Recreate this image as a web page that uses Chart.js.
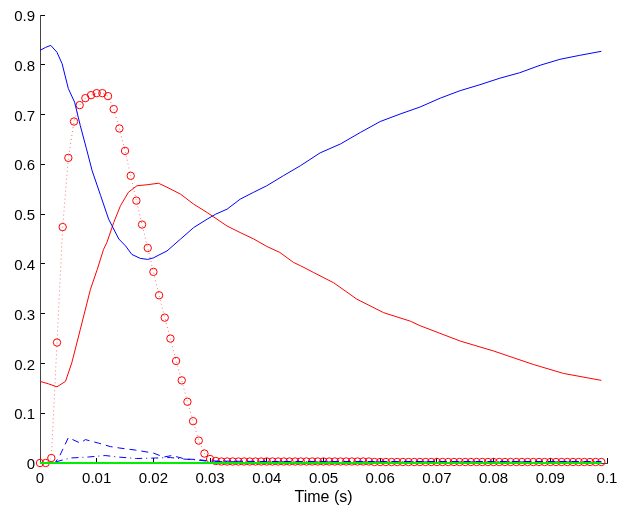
<!DOCTYPE html>
<html>
<head>
<meta charset="utf-8">
<script src="https://cdn.jsdelivr.net/npm/chart.js@4"></script>
<style>
  body { margin: 0; background: #fff; }
  #wrap { width: 622px; height: 514px; }
</style>
</head>
<body>
<div id="wrap"><canvas id="plot" width="622" height="514"></canvas></div>
<script>
// times are in ms, converted to seconds when the datasets are built
let circleTimes = [0,1,2,3,4,5,6,7,8,9,10,11,12,13,14,15,16,17,18,19,
    20,21,22,23,24,25,26,27,28,29,30,31,32,33,34,35,36,37,38,39,
    40,41,42,43,44,45,46,47,48,49,50,51,52,53,54,55,56,57,58,59,
    60,61,62,63,64,65,66,67,68,69,70,71,72,73,74,75,76,77,78,79,
    80,81,82,83,84,85,86,87,88,89,90,91,92,93,94,95,96,97,98,99];
let circleValues = [0,0,0.010,0.242,0.474,0.613,0.686,0.719,0.733,0.739,
    0.743,0.743,0.737,0.711,0.672,0.627,0.577,0.527,0.479,0.432,
    0.384,0.337,0.292,0.250,0.205,0.166,0.123,0.084,0.045,0.019,
    0.008,0.004,0.003,0.003,0.003,0.003,0.003,0.003,0.003,0.003,
    0.003,0.003,0.003,0.003,0.003,0.003,0.003,0.003,0.003,0.003,
    0.003,0.003,0.003,0.003,0.003,0.003,0.003,0.003,0.003,0.002,
    0.002,0.002,0.002,0.002,0.002,0.002,0.002,0.002,0.002,0.002,
    0.002,0.002,0.002,0.002,0.002,0.002,0.002,0.002,0.002,0.002,
    0.002,0.002,0.002,0.002,0.002,0.002,0.002,0.002,0.002,0.002,
    0.002,0.002,0.002,0.002,0.002,0.002,0.002,0.002,0.002,0.002];

let blueTimes = [0,1,1.9,3,3.9,5,6.1,7.1,8.2,9.2,10.7,12.1,13.9,15.1,16.2,17.7,19,20,21,22.4,
    24.8,27.1,29.5,31,33,35.3,37.7,40,42.9,45.9,49.4,53,56.5,60,63.5,67,70.6,74.1,77.6,81.1,
    84.6,88.2,91.7,95.2,99];
let blueValues = [0.829,0.835,0.839,0.825,0.802,0.752,0.725,0.678,0.631,0.587,0.537,0.490,0.450,0.436,0.419,0.411,0.409,0.412,0.418,0.426,
    0.450,0.473,0.490,0.500,0.510,0.530,0.544,0.557,0.577,0.597,0.623,0.641,0.664,0.686,0.701,0.715,0.733,0.748,0.760,0.773,
    0.784,0.799,0.811,0.819,0.827];

let redTimes = [0,1.5,3,4.5,5.6,7.1,8.9,10.1,11.2,11.8,13,14.2,15.6,17.1,18.9,20.9,22.4,24.8,27.1,29.5,
    33,35.3,37.7,40,42.3,44.7,46,48.2,51.8,55.9,60.6,65.3,67,74.1,80,87,92.3,99];
let redValues = [0.164,0.159,0.153,0.164,0.201,0.268,0.349,0.389,0.429,0.443,0.483,0.517,0.544,0.557,0.559,0.562,0.554,0.540,0.520,0.503,
    0.476,0.463,0.450,0.435,0.423,0.403,0.396,0.383,0.362,0.329,0.302,0.285,0.276,0.245,0.225,0.198,0.180,0.166];

let dashTimes = [0,2.7,3.5,5,7.1,8,10.3,12.4,14.1,16.8,20,21.8,23.3,25.6,27.7,30,40,50,60,70,80,90,99];
let dashValues = [0,0.001,0.015,0.051,0.040,0.047,0.040,0.033,0.030,0.026,0.020,0.012,0.015,0.008,0.007,0.004,0.003,0.003,0.003,0.003,0.003,0.003,0.003];

let dashDotTimes = [0,2.7,5.3,8.5,11.5,13.8,17,20.4,23,25.3,27.7,30,40,50,60,70,80,90,99];
let dashDotValues = [0,0.002,0.010,0.012,0.015,0.012,0.009,0.010,0.011,0.008,0.006,0.003,0.002,0.002,0.002,0.002,0.002,0.002,0.002];

let greenTimes = [0,99];
let greenValues = [0,0];

let xTicks = [0,0.01,0.02,0.03,0.04,0.05,0.06,0.07,0.08,0.09,0.1];
let yTicks = [0,0.1,0.2,0.3,0.4,0.5,0.6,0.7,0.8,0.9];

function pts(times, values) {
    return times.map((t, i) => ({ x: t / 1000, y: values[i] }));
}

let fontFamily = '"Liberation Sans", Arial, Helvetica, sans-serif';

let plotEl = document.getElementById("plot").getContext('2d');

let plot = new Chart(plotEl, {
    type: 'line',
    data: {
        datasets: [
            {
                label: 'green',
                data: pts(greenTimes, greenValues),
                borderColor: '#00ee00',
                borderWidth: 2,
                pointRadius: 0,
            },
            {
                label: 'dash-dot',
                data: pts(dashDotTimes, dashDotValues),
                borderColor: '#0000ff',
                borderWidth: 1,
                borderDash: [7, 4, 1, 4],
                pointRadius: 0,
            },
            {
                label: 'dashed',
                data: pts(dashTimes, dashValues),
                borderColor: '#0000ff',
                borderWidth: 1,
                borderDash: [7, 5],
                pointRadius: 0,
            },
            {
                label: 'blue',
                data: pts(blueTimes, blueValues),
                borderColor: '#0000ff',
                borderWidth: 1,
                pointRadius: 0,
            },
            {
                label: 'red',
                data: pts(redTimes, redValues),
                borderColor: '#ff0000',
                borderWidth: 1,
                pointRadius: 0,
            },
            {
                label: 'circles',
                data: pts(circleTimes, circleValues),
                borderColor: 'rgba(255,0,0,0.55)',
                borderWidth: 1,
                borderDash: [1, 3],
                pointRadius: 3.7,
                pointBorderWidth: 1,
                pointBorderColor: '#ff0000',
                pointBackgroundColor: 'rgba(0,0,0,0)',
            },
        ]
    },
    options: {
        responsive: false,
        animation: false,
        devicePixelRatio: 1,
        layout: { padding: { left: 0, right: 15, top: 15, bottom: 0 } },
        datasets: { line: { clip: false, tension: 0 } },
        scales: {
            x: {
                type: 'linear',
                min: 0,
                max: 0.1,
                afterFit: s => { s.height = 51; s.paddingLeft = 0; s.paddingRight = 0; },
                afterBuildTicks: s => { s.ticks = xTicks.map(v => ({ value: v })); },
                grid: { drawOnChartArea: false, tickLength: -5, color: '#000' },
                border: { color: '#444', width: 1 },
                ticks: {
                    color: '#000',
                    font: { family: fontFamily, size: 15 },
                    padding: 12,
                    maxRotation: 0,
                    autoSkip: false,
                    callback: v => String(Number(v.toFixed(2))),
                },
                title: {
                    display: true,
                    text: 'Time (s)',
                    color: '#000',
                    font: { family: fontFamily, size: 16 },
                    padding: { top: 0, bottom: 7 },
                },
            },
            y: {
                min: 0,
                max: 0.9,
                afterFit: s => { s.width = 40; s.paddingTop = 0; s.paddingBottom = 0; },
                afterBuildTicks: s => { s.ticks = yTicks.map(v => ({ value: v })); },
                grid: { drawOnChartArea: false, tickLength: -5, color: '#000' },
                border: { color: '#444', width: 1 },
                ticks: {
                    color: '#000',
                    font: { family: fontFamily, size: 15 },
                    padding: 10,
                    labelOffset: 2,
                    autoSkip: false,
                    callback: v => String(Number(v.toFixed(1))),
                },
            },
        },
        plugins: {
            legend: { display: false },
            tooltip: { enabled: false },
        },
    }
});
</script>
</body>
</html>
